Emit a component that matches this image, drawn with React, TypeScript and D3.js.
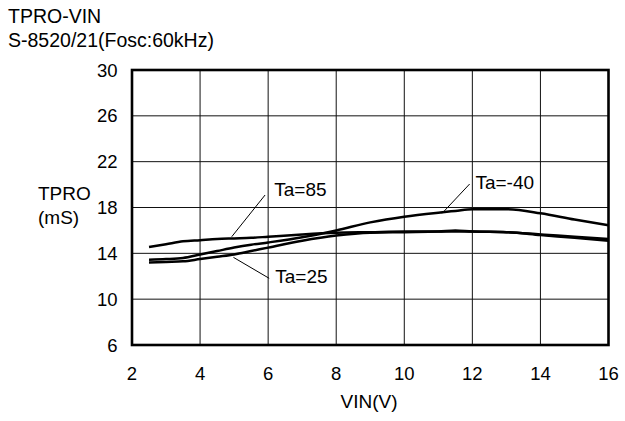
import React from "react";
import * as d3 from "d3";

const WIDTH = 625;
const HEIGHT = 421;

const vin = [2.5, 3, 3.5, 4, 4.5, 5, 5.5, 6, 7, 8, 9, 10, 11, 11.5, 12, 13, 14, 15, 16];
const ta85 = [14.55, 14.8, 15.05, 15.15, 15.25, 15.3, 15.35, 15.45, 15.65, 15.8, 15.85, 15.9, 15.9, 15.9, 15.9, 15.85, 15.6, 15.35, 15.1];
const taM40 = [13.45, 13.5, 13.6, 13.9, 14.2, 14.5, 14.75, 14.95, 15.4, 16.0, 16.7, 17.2, 17.55, 17.7, 17.85, 17.85, 17.5, 16.95, 16.45];
const ta25 = [13.2, 13.25, 13.3, 13.5, 13.7, 13.9, 14.2, 14.5, 15.1, 15.55, 15.8, 15.85, 15.9, 16.0, 15.9, 15.85, 15.65, 15.45, 15.25];

const xTicks = [2, 4, 6, 8, 10, 12, 14, 16];
const yTicks = [6, 10, 14, 18, 22, 26, 30];

const seriesNames = ["Ta=85", "Ta=-40", "Ta=25"];
const seriesValues = [ta85, taM40, ta25];

// annotation: label anchor (data units) and pointer segment (data units)
const labelX = [6.18, 12.09, 6.21];
const labelY = [19.0, 19.59, 11.44];
const pointerFrom = [[5.91, 19.09], [11.92, 20.05], [4.98, 13.65]];
const pointerTo = [[4.93, 15.45], [11.11, 17.49], [6.03, 11.82]];

const FONT = "'Liberation Sans', Arial, Helvetica, sans-serif";

export default function App() {
  const left = 132;
  const right = 608.5;
  const top = 70;
  const bottom = 345;

  const x = d3.scaleLinear().domain([2, 16]).range([left, right]);
  const y = d3.scaleLinear().domain([6, 30]).range([bottom, top]);

  const line = d3
    .line<number>()
    .x((_, i) => x(vin[i]))
    .y((d) => y(d))
    .curve(d3.curveMonotoneX);

  return (
    <svg
      width={WIDTH}
      height={HEIGHT}
      style={{ position: "absolute", left: 0, top: 0, background: "#fff" }}
      fontFamily={FONT}
    >
      <rect x={0} y={0} width={WIDTH} height={HEIGHT} fill="#fff" />
      <text x={8} y={22.5} fontSize={19.5} fill="#000">TPRO-VIN</text>
      <text x={8} y={46.5} fontSize={19.5} fill="#000">S-8520/21(Fosc:60kHz)</text>

      {/* grid */}
      {xTicks.slice(1, -1).map((t) => (
        <line key={"gx" + t} x1={x(t)} x2={x(t)} y1={top} y2={bottom} stroke="#111" strokeWidth={1} />
      ))}
      {yTicks.slice(1, -1).map((t) => (
        <line key={"gy" + t} x1={left} x2={right} y1={y(t)} y2={y(t)} stroke="#111" strokeWidth={1} />
      ))}

      {/* series */}
      {seriesValues.map((vals, i) => (
        <path key={seriesNames[i]} d={line(vals) || ""} fill="none" stroke="#000" strokeWidth={2.5} strokeLinejoin="round" />
      ))}

      {/* frame */}
      <rect x={left} y={top} width={right - left} height={bottom - top} fill="none" stroke="#000" strokeWidth={2.6} />

      {/* y tick labels */}
      {yTicks.map((t) => (
        <text key={"yl" + t} x={117.5} y={y(t)} dy="0.36em" textAnchor="end" fontSize={18.5} fill="#000">
          {t}
        </text>
      ))}
      {/* x tick labels */}
      {xTicks.map((t) => (
        <text key={"xl" + t} x={x(t)} y={379.5} textAnchor="middle" fontSize={18.5} fill="#000">
          {t}
        </text>
      ))}

      <text x={369} y={408} textAnchor="middle" fontSize={19} fill="#000">VIN(V)</text>
      <text x={38} y={200} fontSize={19} fill="#000">TPRO</text>
      <text x={38} y={224} fontSize={19} fill="#000">(mS)</text>

      {/* annotations */}
      {seriesNames.map((name, i) => (
        <g key={"ann" + name}>
          <line
            x1={x(pointerFrom[i][0])}
            y1={y(pointerFrom[i][1])}
            x2={x(pointerTo[i][0])}
            y2={y(pointerTo[i][1])}
            stroke="#000"
            strokeWidth={1}
          />
          <text x={x(labelX[i])} y={y(labelY[i])} fontSize={19} fill="#000">
            {name}
          </text>
        </g>
      ))}
    </svg>
  );
}
